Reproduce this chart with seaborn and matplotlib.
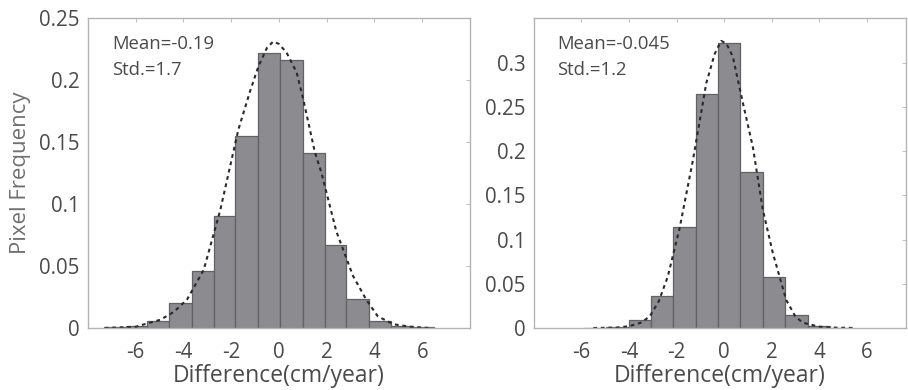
import numpy as np
import pandas as pd
import seaborn as sns
from matplotlib import pyplot as plt

# left panel: bin edges, bar heights and the dashed fit curve
left_edges = [-7.33, -6.42, -5.51, -4.61, -3.64, -2.74, -1.83, -0.89, 0.04, 0.99, 1.92, 2.82, 3.76, 4.70, 5.60, 6.50]
left_heights = [0.0005, 0.002, 0.006, 0.020, 0.046, 0.090, 0.155, 0.222, 0.216, 0.141, 0.067, 0.023, 0.006, 0.002, 0.0005]
left_curve_x = [-7.3, -6.0, -4.96, -4.4, -3.85, -3.15, -2.46, -2.11, -1.70, -1.21, -0.86, -0.5, -0.24, 0.0, 0.32, 0.74, 1.01, 1.5, 1.78, 2.4, 3.1, 3.65, 4.14, 4.8, 5.5, 6.3]
left_curve_y = [0.0, 0.001, 0.0067, 0.013, 0.023, 0.047, 0.095, 0.125, 0.160, 0.191, 0.211, 0.226, 0.231, 0.229, 0.222, 0.206, 0.185, 0.142, 0.125, 0.078, 0.042, 0.023, 0.0094, 0.003, 0.001, 0.0]

# right panel
right_edges = [-5.89, -4.95, -4.01, -3.07, -2.13, -1.19, -0.25, 0.69, 1.63, 2.57, 3.51, 4.45, 5.39]
right_heights = [0.0005, 0.001, 0.0094, 0.036, 0.114, 0.265, 0.323, 0.177, 0.058, 0.015, 0.002, 0.0005]
right_curve_x = [-5.5, -4.5, -4.0, -3.5, -3.13, -2.75, -2.37, -1.87, -1.31, -0.75, -0.4, -0.12, 0.1, 0.37, 0.79, 1.21, 1.63, 2.05, 2.61, 3.0, 3.31, 4.0, 4.5, 5.5]
right_curve_y = [0.0, 0.0005, 0.002, 0.006, 0.013, 0.030, 0.058, 0.113, 0.19, 0.277, 0.31, 0.325, 0.322, 0.307, 0.255, 0.205, 0.134, 0.085, 0.032, 0.013, 0.006, 0.0015, 0.0005, 0.0]

stats_text = [('Mean=-0.19', 'Std.=1.7'), ('Mean=-0.045', 'Std.=1.2')]
x_ticks = [-6, -4, -2, 0, 2, 4, 6]
left_yticks = [0, 0.05, 0.1, 0.15, 0.2, 0.25]
right_yticks = [0, 0.05, 0.1, 0.15, 0.2, 0.25, 0.3]
xlabel = 'Difference(cm/year)'
ylabel = 'Pixel Frequency'

sns.set_style('white')
plt.rcParams['font.family'] = ['Open Sans', 'DejaVu Sans']
txt_col = '#4a4a4a'
spine_col = '#b4b4b4'

fig = plt.figure(figsize=(9.08, 3.9), dpi=100)
ax1 = fig.add_axes([0.0969, 0.159, 0.4207, 0.795])
ax2 = fig.add_axes([0.588, 0.159, 0.4097, 0.795])

panels = [
    (ax1, left_edges, left_heights, left_curve_x, left_curve_y, left_yticks, (-8, 8), (0, 0.25)),
    (ax2, right_edges, right_heights, right_curve_x, right_curve_y, right_yticks, (-8, 7.65), (0, 0.351)),
]

for i, (ax, edges, heights, cx, cy, yt, xl, yl) in enumerate(panels):
    centers = [(a + b) / 2 for a, b in zip(edges[:-1], edges[1:])]
    df = pd.DataFrame({'x': centers, 'h': heights})
    sns.histplot(data=df, x='x', weights='h', bins=list(edges), stat='count', ax=ax,
                 color='#8c8c90', edgecolor='#626266', linewidth=0.9, alpha=1.0)
    sns.lineplot(x=cx, y=cy, ax=ax, color='#2a2a2a', linewidth=1.5,
                 linestyle=(0, (1.8, 1.8)))
    ax.set_xlim(*xl)
    ax.set_ylim(*yl)
    ax.set_xticks(x_ticks)
    ax.set_xticklabels([str(t) for t in x_ticks])
    ax.set_yticks(yt)
    ax.set_yticklabels(['0' if t == 0 else ('%g' % t) for t in yt])
    ax.tick_params(direction='in', top=True, right=True, length=3, width=0.6,
                   color=spine_col, labelsize=14.8, labelcolor=txt_col, pad=6)
    ax.tick_params(axis='x', pad=10)
    for s in ax.spines.values():
        s.set_color(spine_col)
        s.set_linewidth(1.0)
    ax.set_xlabel(xlabel, fontsize=16.5, color=txt_col, labelpad=1)
    if i == 0:
        ax.set_ylabel(ylabel, fontsize=16, color='#707070', labelpad=6)
    else:
        ax.set_ylabel('')
    ax.text(0.063, 0.916, stats_text[i][0], transform=ax.transAxes, fontsize=13.3,
            color=txt_col, va='center', ha='left')
    ax.text(0.063, 0.832, stats_text[i][1], transform=ax.transAxes, fontsize=13.3,
            color=txt_col, va='center', ha='left')

fig.savefig('out.png', dpi=100)
